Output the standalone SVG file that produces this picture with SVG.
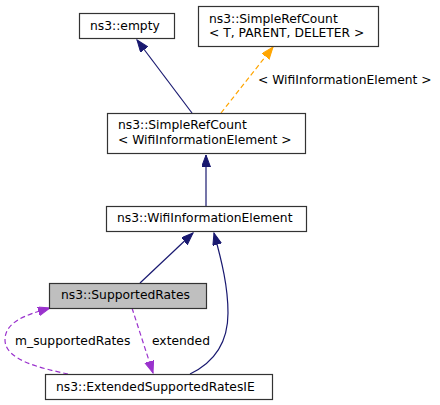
<svg xmlns="http://www.w3.org/2000/svg" width="440" height="405" viewBox="0 0 440 405">
<defs>
<style>
.box{fill:#ffffff;stroke:#333333;stroke-width:1.2}
.cur{fill:#bfbfbf;stroke:#333333;stroke-width:1.2}
text{font-family:"DejaVu Sans","Noto Sans",sans-serif;font-size:12.3px;fill:#000000}
.navy{fill:none;stroke:#191970;stroke-width:1.2}
.orange{fill:none;stroke:#ffa500;stroke-width:1.2;stroke-dasharray:5,3}
.purple{fill:none;stroke:#9a32cd;stroke-width:1.2;stroke-dasharray:5,3}
</style>
<marker id="hn" markerUnits="userSpaceOnUse" markerWidth="14" markerHeight="11" refX="12" refY="4.5" orient="auto"><path d="M0,0 L12,4.5 L0,9 z" fill="#191970" stroke="#191970"/></marker>
<marker id="ho" markerUnits="userSpaceOnUse" markerWidth="14" markerHeight="11" refX="12" refY="4.5" orient="auto"><path d="M0,0 L12,4.5 L0,9 z" fill="#ffa500" stroke="#ffa500"/></marker>
<marker id="hp" markerUnits="userSpaceOnUse" markerWidth="14" markerHeight="11" refX="12" refY="4.5" orient="auto"><path d="M0,0 L12,4.5 L0,9 z" fill="#9a32cd" stroke="#9a32cd"/></marker>
</defs>
<rect width="440" height="405" fill="#ffffff"/>
<g id="connectors">
<path class="navy" d="M192,113 L137,40" marker-end="url(#hn)"/>
<path class="orange" d="M221,113 L273,47" marker-end="url(#ho)"/>
<text x="258" y="83.5">&lt; WifiInformationElement &gt;</text>
<path class="navy" d="M206,206 L206,155" marker-end="url(#hn)"/>
<path class="navy" d="M140,283 L193,233" marker-end="url(#hn)"/>
<path class="navy" d="M190,374 C215,362 228,343 228,313 C228,287 222,262 214,233" marker-end="url(#hn)"/>
<path class="purple" d="M132,308 L153,373" marker-end="url(#hp)"/>
<text x="152" y="345">extended</text>
<path class="purple" d="M68,374 C40,368 5,360 5,340 C5,322 25,315 50,308" marker-end="url(#hp)"/>
<text x="15" y="345">m_supportedRates</text>
</g>
<g id="node-empty">
<rect class="box" x="79.5" y="13.5" width="95" height="25"/>
<text x="90" y="30">ns3::empty</text>
</g>
<g id="node-simplerefcount-t">
<rect class="box" x="198.5" y="6.5" width="180" height="40"/>
<text x="209" y="23">ns3::SimpleRefCount</text>
<text x="209" y="37">&lt; T, PARENT, DELETER &gt;</text>
</g>
<g id="node-simplerefcount-wifi">
<rect class="box" x="107.5" y="113.5" width="198" height="40"/>
<text x="118" y="129">ns3::SimpleRefCount</text>
<text x="118" y="143.5">&lt; WifiInformationElement &gt;</text>
</g>
<g id="node-wifiinformationelement">
<rect class="box" x="106.5" y="206.5" width="200" height="25"/>
<text x="117" y="221.5">ns3::WifiInformationElement</text>
</g>
<g id="node-supportedrates">
<rect class="cur" x="49.5" y="283.5" width="157" height="25"/>
<text x="61" y="299">ns3::SupportedRates</text>
</g>
<g id="node-extendedsupportedratesie">
<rect class="box" x="45.5" y="374.5" width="227" height="25"/>
<text x="56" y="390.5">ns3::ExtendedSupportedRatesIE</text>
</g>
</svg>
